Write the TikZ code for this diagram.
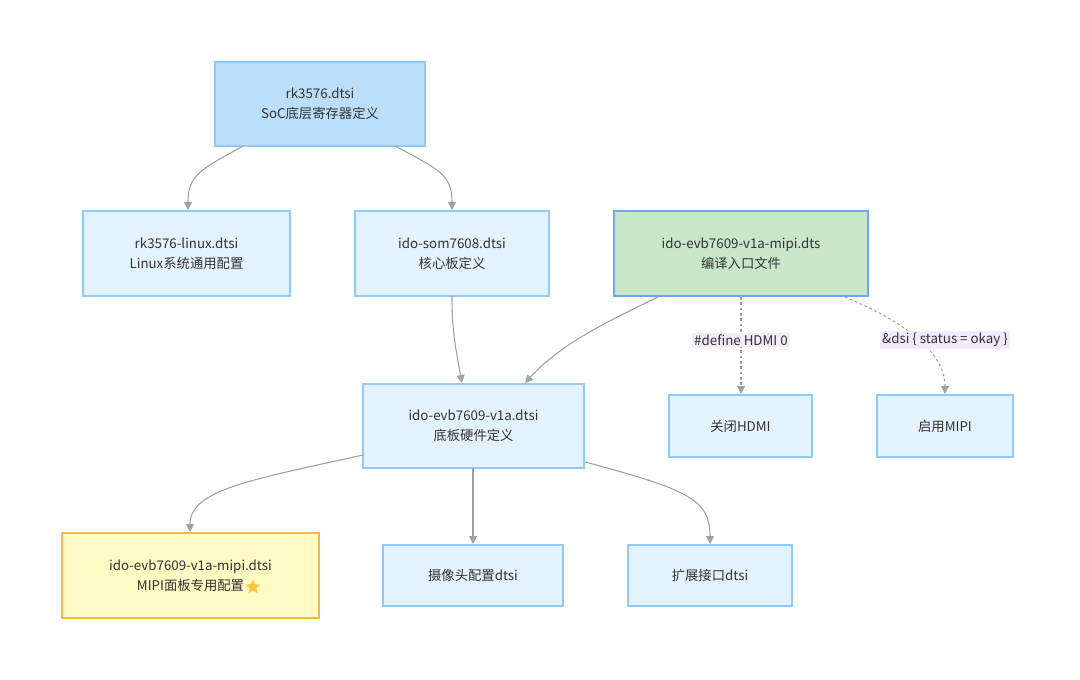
\documentclass[tikz,border=0pt]{standalone}
\usepackage{fontspec}
\setmainfont{Noto Sans CJK SC}
\usetikzlibrary{shapes.geometric,arrows.meta}
\definecolor{bfill}{HTML}{E3F2FD}
\definecolor{bline}{HTML}{90CAF9}
\definecolor{tfill}{HTML}{BBDEFB}
\definecolor{gfill}{HTML}{C8E6C9}
\definecolor{gline}{HTML}{6EA8F5}
\definecolor{yfill}{HTML}{FFF9C4}
\definecolor{yline}{HTML}{F9B84A}
\definecolor{edge}{HTML}{A0A0A0}
\definecolor{lfill}{HTML}{F3EAFB}
\definecolor{txt}{HTML}{333333}
\begin{document}
\begin{tikzpicture}[x=0.75pt,y=-0.75pt,
  box/.style={draw=bline,fill=bfill,line width=0.9pt,text=txt,font=\fontsize{10}{15}\selectfont,align=center,inner sep=0pt},
  e/.style={draw=edge,line width=0.8pt,-{Triangle[length=6pt,width=6pt]}},
  d/.style={e,dash pattern=on 2pt off 2pt},
  lab/.style={fill=lfill,text=txt,font=\fontsize{10}{12}\selectfont,inner sep=1.5pt}]
\useasboundingbox (0,0) rectangle (1080,680);
\node[box,fill=tfill,minimum width=210*0.75pt,minimum height=84*0.75pt] (rk) at (320,104) {rk3576.dtsi\\SoC底层寄存器定义};
\node[box,minimum width=207*0.75pt,minimum height=85*0.75pt] (lin) at (186.5,253.5) {rk3576-linux.dtsi\\Linux系统通用配置};
\node[box,minimum width=194*0.75pt,minimum height=85*0.75pt] (som) at (452,253.5) {ido-som7608.dtsi\\核心板定义};
\node[box,fill=gfill,draw=gline,line width=1.8pt,minimum width=254*0.75pt,minimum height=85*0.75pt] (mn) at (741,253.5) {ido-evb7609-v1a-mipi.dts\\编译入口文件};
\node[box,minimum width=221*0.75pt,minimum height=84*0.75pt] (evb) at (473.5,426) {ido-evb7609-v1a.dtsi\\底板硬件定义};
\node[box,minimum width=143*0.75pt,minimum height=62*0.75pt] (hd) at (740.5,426) {关闭HDMI};
\node[box,minimum width=136*0.75pt,minimum height=62*0.75pt] (mp) at (945,426) {启用MIPI};
\node[box,fill=yfill,draw=yline,minimum width=257*0.75pt,minimum height=85*0.75pt] (ym) at (190.5,575.5) {ido-evb7609-v1a-mipi.dtsi\\MIPI面板专用配置\hspace{1.9em}};
\node[star,star points=5,star point ratio=2.2,fill=yline!80!yellow,inner sep=0pt,minimum size=15*0.75pt] (st) at (253,587) {};
\node[box,minimum width=180*0.75pt,minimum height=61*0.75pt] (cam) at (473,575.5) {摄像头配置dtsi};
\node[box,minimum width=164*0.75pt,minimum height=61*0.75pt] (ext) at (710,575.5) {扩展接口dtsi};
\draw[e] (243,146) .. controls (200,170) and (188,175) .. (188,210);
\draw[e] (395,146) .. controls (440,170) and (452,175) .. (452,210);
\draw[e] (452,296) .. controls (452,330) and (455,345) .. (462,383);
\draw[e] (660,296) .. controls (600,325) and (560,345) .. (525,383);
\draw[e] (363,455) .. controls (250,480) and (190,490) .. (190,532);
\draw[e] (473,468) -- (473,544);
\draw[e] (585,462) .. controls (690,490) and (710,500) .. (710,544);
\draw[d] (741,297) -- (741,394);
\draw[d] (845,297) .. controls (900,320) and (945,350) .. (945,394);
\node[lab] at (741,340) {\#define HDMI 0};
\node[lab] at (945,340) {\&dsi \{ status = okay \}};
\end{tikzpicture}
\end{document}
